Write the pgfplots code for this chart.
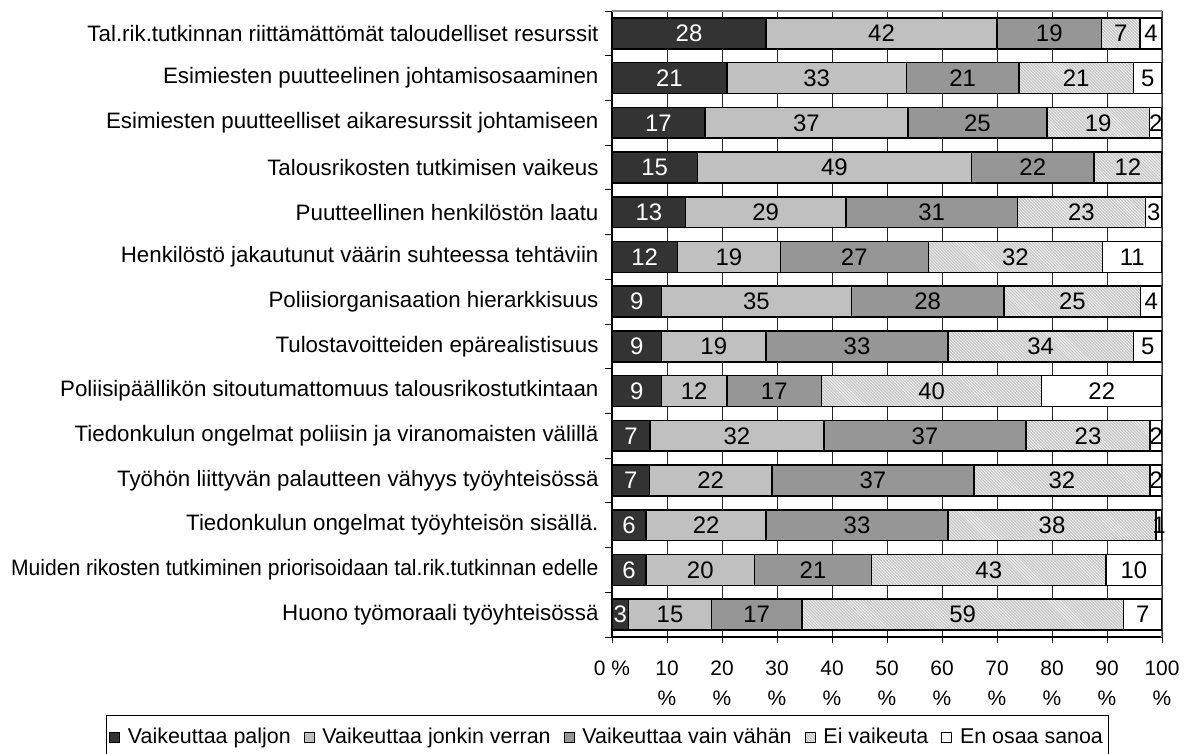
\documentclass[border=0pt]{standalone}
\usepackage{pgfplots}
\pgfplotsset{compat=1.18}
\usepackage{pgfplotstable}
\usepackage{fontspec}
\setmainfont{Liberation Sans}
\usetikzlibrary{patterns}
\definecolor{cdark}{HTML}{333333}
\definecolor{clight}{HTML}{C0C0C0}
\definecolor{cmid}{HTML}{969696}
\definecolor{chatch}{HTML}{C8C8C8}

\pgfplotstableread{
y a b c d e
0 28 42 19 7 4
1 20.9 32.6 20.5 20.8 5.2
2 16.9 36.9 25.3 18.6 2.3
3 15.5 49.9 22.2 12.4 0
4 13.4 29.1 31.2 23.3 3.0
5 11.9 18.7 26.9 31.7 10.8
6 9.0 34.5 27.8 24.8 3.9
7 9.0 19.0 33.1 33.7 5.2
8 9.0 11.9 17.2 40.0 21.9
9 6.9 31.6 36.8 22.5 2.2
10 6.8 22.3 36.7 32.0 2.2
11 6.2 21.8 33.1 37.8 1.1
12 6.2 19.7 21.3 42.6 10.2
13 3.0 15.1 16.4 58.5 7.0
}\bars

\pgfplotstableread{
y x l
0 14 28
1 10.45 21
2 8.45 17
3 7.75 15
4 6.7 13
5 5.95 12
6 4.5 9
7 4.5 9
8 4.5 9
9 3.45 7
10 3.4 7
11 3.1 6
12 3.1 6
13 1.5 3
}\labdark

\pgfplotstableread{
y x l
0 49 42
0 79.5 19
0 92.5 7
0 98 4
1 37.2 33
1 63.75 21
1 84.4 21
1 97.4 5
2 35.35 37
2 66.45 25
2 88.4 19
2 98.85 2
3 40.45 49
3 76.5 22
3 93.8 12
4 27.95 29
4 58.1 31
4 85.35 23
4 98.5 3
5 21.25 19
5 44.05 27
5 73.35 32
5 94.6 11
6 26.25 35
6 57.4 28
6 83.7 25
6 98.05 4
7 18.5 19
7 44.55 33
7 77.95 34
7 97.4 5
8 14.95 12
8 29.5 17
8 58.1 40
8 89.05 22
9 22.7 32
9 56.9 37
9 86.55 23
9 98.9 2
10 17.95 22
10 47.45 37
10 81.8 32
10 98.9 2
11 17.1 22
11 44.55 33
11 80.0 38
11 99.45 1
12 16.05 20
12 36.55 21
12 68.5 43
12 94.9 10
13 10.55 15
13 26.3 17
13 63.75 59
13 96.5 7
}\labother

\pgfplotsset{
  myleg/.style={legend image code/.code={\draw[##1, line width=0.8bp] (0bp,-5bp) rectangle (10bp,5bp);}},
  segstyle/.style={draw=black, line width=1.5bp, myleg},
}

\begin{document}
\begin{tikzpicture}[x=1bp,y=1bp]
\useasboundingbox (0,0) rectangle (1187,754);
\begin{axis}[
  at={(612bp,117bp)}, anchor=south west,
  width=550bp, height=626bp, scale only axis,
  xbar stacked, bar width=0.69,
  xmin=0, xmax=100, ymin=-0.5, ymax=13.5, y dir=reverse,
  ytick={0,...,13},
  yticklabels={
    Tal.rik.tutkinnan riittämättömät taloudelliset resurssit,
    Esimiesten puutteelinen johtamisosaaminen,
    Esimiesten puutteelliset aikaresurssit johtamiseen,
    Talousrikosten tutkimisen vaikeus,
    Puutteellinen henkilöstön laatu,
    Henkilöstö jakautunut väärin suhteessa tehtäviin,
    Poliisiorganisaation hierarkkisuus,
    Tulostavoitteiden epärealistisuus,
    Poliisipäällikön sitoutumattomuus talousrikostutkintaan,
    Tiedonkulun ongelmat poliisin ja viranomaisten välillä,
    Työhön liittyvän palautteen vähyys työyhteisössä,
    Tiedonkulun ongelmat työyhteisön sisällä.,
    {\scalebox{0.945}[1]{Muiden rikosten tutkiminen priorisoidaan tal.rik.tutkinnan edelle}},
    Huono työmoraali työyhteisössä},
  minor ytick={-0.5,0.5,...,13.5},
  xtick={0,10,...,100},
  xticklabels={{0 \%},{10\\\%},{20\\\%},{30\\\%},{40\\\%},{50\\\%},{60\\\%},{70\\\%},{80\\\%},{90\\\%},{100\\\%}},
  xticklabel style={align=center, font=\fontsize{21}{30}\selectfont, yshift=-14bp},
  yticklabel style={font=\fontsize{22.4}{26}\selectfont, xshift=-4bp},
  tick align=outside, major tick length=6bp, minor tick length=7bp,
  every major y tick/.append style={draw=none},
  tick style={black, line width=0.8bp},
  xmajorgrids, major x grid style={black!85, line width=0.8bp},
  axis x line*=bottom, axis y line*=left,
  axis line style={black, line width=1.2bp, -},
  legend columns=5,
  legend style={at={(axis description cs:-0.009,-0.1246)}, anchor=north,
    draw=black, line width=0.8bp, font=\fontsize{21.5}{26}\selectfont,
    /tikz/every odd column/.append style={column sep=6bp},
    /tikz/every even column/.append style={column sep=11bp},
    inner xsep=3bp, inner ysep=11bp},
]
\addplot[segstyle, fill=cdark] table[x=a,y=y]{\bars};
\addplot[segstyle, fill=clight] table[x=b,y=y]{\bars};
\addplot[segstyle, fill=cmid] table[x=c,y=y]{\bars};
\addplot[segstyle, fill=chatch, postaction={pattern=north west lines, pattern color=white}] table[x=d,y=y]{\bars};
\addplot[segstyle, fill=white] table[x=e,y=y]{\bars};
\legend{Vaikeuttaa paljon, Vaikeuttaa jonkin verran, Vaikeuttaa vain vähän, Ei vaikeuta, En osaa sanoa}
\draw[black!45, line width=1.5bp] (axis cs:0,-0.5) -- (axis cs:100,-0.5) -- (axis cs:100,13.5);
\end{axis}
\begin{axis}[
  at={(612bp,117bp)}, anchor=south west,
  width=550bp, height=626bp, scale only axis,
  xmin=0, xmax=100, ymin=-0.5, ymax=13.5, y dir=reverse,
  hide axis,
]
\addplot[draw=none, mark=none, nodes near coords, point meta=explicit symbolic,
  every node near coord/.append style={font=\fontsize{24}{24}\selectfont, text=white, anchor=center, inner sep=0pt}]
  table[x=x,y=y,meta=l]{\labdark};
\addplot[draw=none, mark=none, nodes near coords, point meta=explicit symbolic,
  every node near coord/.append style={font=\fontsize{24}{24}\selectfont, text=black, anchor=center, inner sep=0pt}]
  table[x=x,y=y,meta=l]{\labother};
\end{axis}
\end{tikzpicture}
\end{document}
